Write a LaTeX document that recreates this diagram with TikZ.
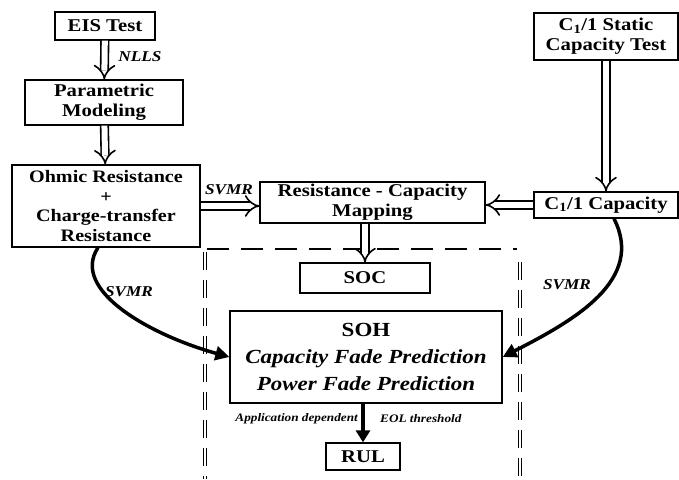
\documentclass[tikz,border=0pt]{standalone}
\usepackage{fontspec}
\setmainfont{Liberation Serif}[FakeStretch=1.15,
  BoldFeatures={FakeStretch=1.15}, ItalicFeatures={FakeStretch=1.15},
  BoldItalicFeatures={FakeStretch=1.15}]
\usetikzlibrary{arrows.meta}
\begin{document}
\begin{tikzpicture}[x=1pt,y=-1pt,
  box/.style={draw, line width=1.3pt, align=center, font=\fontsize{18}{20}\selectfont\bfseries, inner sep=0pt},
  dbl/.style={double, double distance=6pt, line width=1.6pt, -{Implies}},
  thk/.style={line width=3.5pt, -{Triangle[length=14pt,width=14pt]}},
  lbl/.style={font=\fontsize{15}{17}\selectfont\bfseries\itshape, inner sep=0pt},
  small/.style={font=\fontsize{11.5}{13}\selectfont\bfseries\itshape, inner sep=0pt}]
\useasboundingbox (0,0) rectangle (679,479);
\node[box, minimum width=100pt, minimum height=28pt] (eis) at (105,26) {EIS Test};
\node[box, minimum width=158pt, minimum height=45pt] (pm) at (104,102.5) {Parametric\\Modeling};
\node[box, minimum width=188pt, minimum height=82pt, font=\fontsize{17.5}{19.5}\selectfont\bfseries] (ohm) at (106,206) {Ohmic Resistance\\+\\Charge-transfer\\Resistance};
\node[box, minimum width=225pt, minimum height=41pt] (rcm) at (372.5,202.5) {Resistance - Capacity\\Mapping};
\node[box, minimum width=144pt, minimum height=47pt] (sct) at (606,36.5) {C\textsubscript{1}/1 Static\\Capacity Test};
\node[box, minimum width=144pt, minimum height=26pt] (cap) at (606,205) {C\textsubscript{1}/1 Capacity};
\node[box, minimum width=130pt, minimum height=30pt] (soc) at (365,278) {SOC};
\node[box, minimum width=272pt, minimum height=92pt, font=\fontsize{20}{27}\selectfont\bfseries] (soh) at (366,357) {SOH\\\itshape Capacity Fade Prediction\\\itshape Power Fade Prediction};
\node[box, minimum width=74pt, minimum height=27pt] (rul) at (363,456.5) {RUL};
% dashed region
\draw[line width=2.5pt, dash pattern=on 22pt off 12pt] (207,249) -- (517,249);
\draw[double, double distance=1.5pt, line width=1pt, dash pattern=on 18pt off 10pt] (205,252) -- (205,479);
\draw[double, double distance=1.5pt, line width=1pt, dash pattern=on 18pt off 10pt] (520,262) -- (520,479);
% connectors
\draw[dbl] (eis) -- (pm);
\draw[dbl] (pm) -- (ohm);
\draw[dbl] (ohm.east) -- (ohm.east -| rcm.west);
\draw[dbl] (sct) -- (cap);
\draw[dbl] (cap.west) -- (cap.west -| rcm.east);
\draw[dbl] (rcm.south -| soc.north) -- (soc.north);
\draw[thk] ([xshift=-8pt]ohm.south) .. controls (70,290) and (150,335) .. (soh.west);
\draw[thk] ([xshift=8pt]cap.south) .. controls (645,280) and (575,320) .. (soh.east);
\draw[line width=3.5pt, -{Triangle[length=12pt,width=14pt]}] (soh.south -| rul.north) -- (rul.north);
% labels
\node[lbl] (l1) at (140,57) {NLLS};
\node[lbl] (l2) at (229,190) {SVMR};
\node[lbl] (l3) at (129,292) {SVMR};
\node[lbl] (l4) at (567,285) {SVMR};
\node[small, anchor=east] (l5) at (358,419) {Application dependent};
\node[small, anchor=west] (l6) at (380,419) {EOL threshold};
\end{tikzpicture}
\end{document}
